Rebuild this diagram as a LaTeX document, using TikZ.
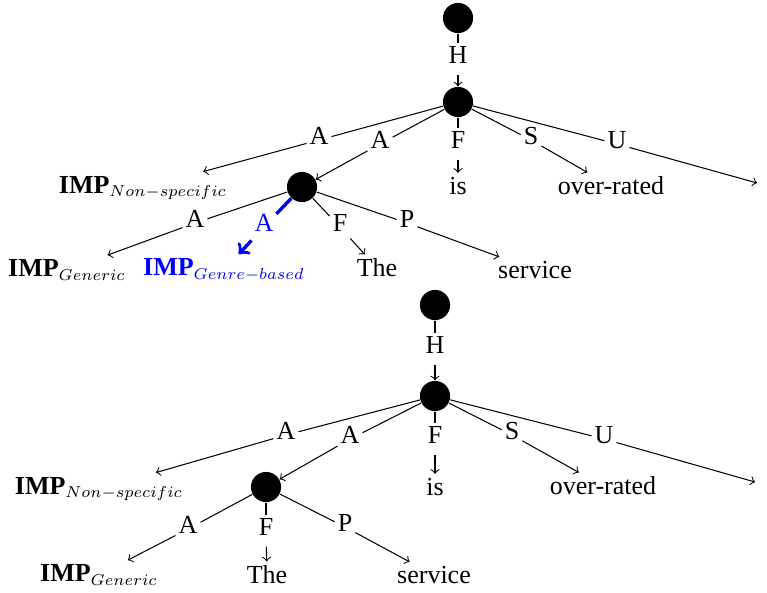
\documentclass[tikz,border=0pt]{standalone}
\usepackage{graphicx}
\usepackage{fontspec}
\setmainfont{Liberation Serif}
\newcommand\impsub[1]{\textbf{IMP}$_{\scalebox{0.87}{$\scriptstyle #1$}}$}
\begin{document}
\begin{tikzpicture}[x=0.3846pt,y=-0.3846pt,
  dot/.style={circle,fill=black,inner sep=0pt,minimum size=11.6pt},
  lbl/.style={inner sep=1pt,text depth=3pt},
  word/.style={inner sep=1.5pt},
  hl/.style={draw=blue,line width=1.3pt},
]
\useasboundingbox (0,0) rectangle (767,592);
% ---------- top tree ----------
\node[dot] (r1) at (458,18) {};
\node[lbl] (h1) at (458,59) {H};
\node[dot] (n1) at (458,102) {};
\node[lbl] (a11) at (319,140) {A};
\node[lbl] (a12) at (380,144) {A};
\node[lbl] (f1) at (458,144) {F};
\node[lbl] (s1) at (531,140) {S};
\node[lbl] (u1) at (617,144) {U};
\node[word] (ns1) at (143,188) {\impsub{Non-specific}};
\node[dot] (m1) at (302,187) {};
\node[word] (is1) at (458,186) {is};
\node[word] (ov1) at (611,186) {over-rated};
\coordinate (e1) at (757,183);
\node[lbl] (b11) at (195,223) {A};
\node[lbl,text=blue] (b12) at (264,227) {A};
\node[lbl] (b13) at (340,227) {F};
\node[lbl] (b14) at (407,223) {P};
\node[word] (g1) at (67,270) {\impsub{Generic}};
\node[word,text=blue] (gb1) at (224,270) {\impsub{Genre-based}};
\node[word] (th1) at (377,268) {The};
\node[word] (sv1) at (535,270) {service};
\draw (r1) -- (h1); \draw[->] (h1) -- (n1);
\draw (n1) -- (a11); \draw[->] (a11) -- (ns1);
\draw (n1) -- (a12); \draw[->] (a12) -- (m1);
\draw (n1) -- (f1); \draw[->] (f1) -- (is1);
\draw (n1) -- (s1); \draw[->] (s1) -- (ov1);
\draw (n1) -- (u1); \draw[->] (u1) -- (e1);
\draw (m1) -- (b11); \draw[->] (b11) -- (g1);
\draw[hl] (m1) -- (b12); \draw[hl,->] (b12) -- (gb1);
\draw (m1) -- (b13); \draw[->] (b13) -- (th1);
\draw (m1) -- (b14); \draw[->] (b14) -- (sv1);
% ---------- bottom tree ----------
\node[dot] (r2) at (435,305) {};
\node[lbl] (h2) at (435,349) {H};
\node[dot] (n2) at (435,396) {};
\node[lbl] (a21) at (286,435) {A};
\node[lbl] (a22) at (350,439) {A};
\node[lbl] (f2) at (435,439) {F};
\node[lbl] (s2) at (512,435) {S};
\node[lbl] (u2) at (604,439) {U};
\node[word] (ns2) at (99,489) {\impsub{Non-specific}};
\node[dot] (m2) at (266,487) {};
\node[word] (is2) at (435,487) {is};
\node[word] (ov2) at (603,486) {over-rated};
\coordinate (e2) at (755,482);
\node[lbl] (b21) at (188,529) {A};
\node[lbl] (b22) at (266,531) {F};
\node[lbl] (b23) at (345,527) {P};
\node[word] (g2) at (99,575) {\impsub{Generic}};
\node[word] (th2) at (267,575) {The};
\node[word] (sv2) at (434,575) {service};
\draw (r2) -- (h2); \draw[->] (h2) -- (n2);
\draw (n2) -- (a21); \draw[->] (a21) -- (ns2);
\draw (n2) -- (a22); \draw[->] (a22) -- (m2);
\draw (n2) -- (f2); \draw[->] (f2) -- (is2);
\draw (n2) -- (s2); \draw[->] (s2) -- (ov2);
\draw (n2) -- (u2); \draw[->] (u2) -- (e2);
\draw (m2) -- (b21); \draw[->] (b21) -- (g2);
\draw (m2) -- (b22); \draw[->] (b22) -- (th2);
\draw (m2) -- (b23); \draw[->] (b23) -- (sv2);
\end{tikzpicture}
\end{document}
